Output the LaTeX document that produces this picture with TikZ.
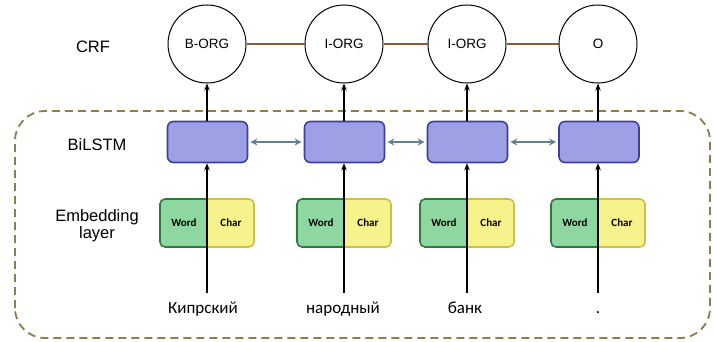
\documentclass[tikz,border=0pt]{standalone}
\usepackage{fontspec}
\setmainfont{Liberation Sans}
\newfontfamily\carl{Carlito}
\usetikzlibrary{arrows.meta}
\definecolor{lstmfill}{HTML}{9DA0E4}
\definecolor{lstmdraw}{HTML}{3C409C}
\definecolor{wfill}{HTML}{8ED7A0}
\definecolor{wdraw}{HTML}{2F7A3A}
\definecolor{cfill}{HTML}{F7F38C}
\definecolor{cdraw}{HTML}{C9C24A}
\definecolor{crfline}{HTML}{8B5A3C}
\definecolor{dashc}{HTML}{8A7F4F}
\definecolor{biarrow}{HTML}{5F8294}
\definecolor{biarrowfill}{HTML}{8FB0C0}
\tikzset{
  crfnode/.style={circle, draw=black, line width=1pt, minimum size=78pt, inner sep=0pt, font=\fontsize{13.5}{15}\selectfont},
  lstmbox/.style={rectangle, rounded corners=6pt, draw=lstmdraw, fill=lstmfill, line width=1.6pt, minimum width=80pt, minimum height=41pt},
  embslot/.style={rectangle, minimum width=94pt, minimum height=48pt, inner sep=0pt},
  leftlabel/.style={font=\fontsize{16.5}{19}\selectfont, align=center},
  wordlabel/.style={font=\carl\fontsize{17}{19}\selectfont, anchor=base},
  embtext/.style={font=\carl\bfseries\fontsize{11}{12}\selectfont},
  uparrow/.style={-{Stealth[length=7pt,width=5.5pt]}, line width=1.3pt, black},
  biarr/.style={{Stealth[length=7pt,width=7pt,fill=biarrowfill]}-{Stealth[length=7pt,width=7pt,fill=biarrowfill]}, line width=1.2pt, biarrow, shorten <=2pt, shorten >=2pt},
  crflink/.style={line width=1.3pt, crfline},
}
\newcommand{\embbox}[2]{%
  % #1 = divider x, #2 = name
  \fill[wfill] (#1,142) -- ({#1-42},142) arc[start angle=90,end angle=180,radius=5] -- ({#1-47},99) arc[start angle=180,end angle=270,radius=5] -- (#1,94) -- cycle;
  \fill[cfill] (#1,142) -- ({#1+42},142) arc[start angle=90,end angle=0,radius=5] -- ({#1+47},99) arc[start angle=0,end angle=-90,radius=5] -- (#1,94) -- cycle;
  \draw[wdraw, line width=1.6pt] (#1,142) -- ({#1-42},142) arc[start angle=90,end angle=180,radius=5] -- ({#1-47},99) arc[start angle=180,end angle=270,radius=5] -- (#1,94);
  \draw[cdraw, line width=1.6pt] (#1,142) -- ({#1+42},142) arc[start angle=90,end angle=0,radius=5] -- ({#1+47},99) arc[start angle=0,end angle=-90,radius=5] -- (#1,94);
  \node[embslot] (#2) at (#1,118) {};
  \node[embtext] at ({#1-23},118) {Word};
  \node[embtext] at ({#1+24},118) {Char};
}
\begin{document}
\begin{tikzpicture}[x=1pt,y=1pt]
\useasboundingbox (0,0) rectangle (713,341);
% dashed container
\draw[dashc, line width=1.8pt, dash pattern=on 8pt off 5pt, rounded corners=30pt] (15,3) rectangle (710,230);
% left labels
\node[leftlabel] (lcrf) at (93,294) {CRF};
\node[leftlabel] (llstm) at (97,196) {BiLSTM};
\node[leftlabel] (lemb) at (97,115) {Embedding\\[-2pt]layer};
% CRF nodes
\node[crfnode] (c1) at (207,297) {B-ORG};
\node[crfnode] (c2) at (344,297) {I-ORG};
\node[crfnode] (c3) at (467,297) {I-ORG};
\node[crfnode] (c4) at (598,297) {O};
\draw[crflink] (c1) -- (c2);
\draw[crflink] (c2) -- (c3);
\draw[crflink] (c3) -- (c4);
% BiLSTM
\node[lstmbox] (b1) at (207.5,199) {};
\node[lstmbox] (b2) at (344.5,199) {};
\node[lstmbox] (b3) at (467.5,199) {};
\node[lstmbox] (b4) at (599,199) {};
\draw[biarr] (b1) -- (b2);
\draw[biarr] (b2) -- (b3);
\draw[biarr] (b3) -- (b4);
% embeddings
\embbox{207}{e1}
\embbox{344}{e2}
\embbox{467}{e3}
\embbox{598}{e4}
% words
\node[wordlabel] (w1) at (203,28) {Кипрский};
\node[wordlabel] (w2) at (343,28) {народный};
\node[wordlabel] (w3) at (465,28) {банк};
\node[wordlabel] (w4) at (598,28) {.};
\coordinate (s1) at (207,48);
\coordinate (s2) at (344,48);
\coordinate (s3) at (467,48);
\coordinate (s4) at (598,48);
% arrows
\draw[uparrow] (s1) -- (s1 |- b1.south);
\draw[uparrow] (s2) -- (s2 |- b2.south);
\draw[uparrow] (s3) -- (s3 |- b3.south);
\draw[uparrow] (s4) -- (s4 |- b4.south);
\draw[uparrow] (b1.north -| c1) -- (c1.south);
\draw[uparrow] (b2.north -| c2) -- (c2.south);
\draw[uparrow] (b3.north -| c3) -- (c3.south);
\draw[uparrow] (b4.north -| c4) -- (c4.south);
\end{tikzpicture}
\end{document}
